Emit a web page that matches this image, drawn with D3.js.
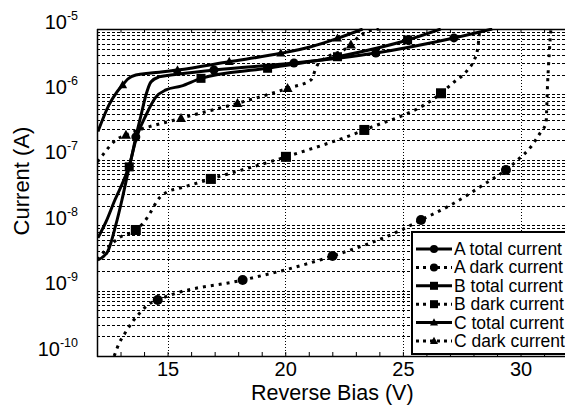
<!DOCTYPE html>
<html>
<head>
<meta charset="utf-8">
<script src="https://cdnjs.cloudflare.com/ajax/libs/d3/7.8.5/d3.min.js"></script>
<style>
  body { margin: 0; background: #fff; }
  svg { display: block; font-family: Arial, "Liberation Sans", sans-serif; }
</style>
</head>
<body>
<div id="chart"></div>
<script>
// reverse bias (V) / current (A) pairs
var aTotal = [[12.04,6.4e-9],[12.38,1.12e-8],[12.76,2.43e-8],[13.14,4.9e-8],[13.44,9.9e-8],[13.65,2.23e-7],[13.87,4.8e-7],[14.08,9.8e-7],[14.29,1.55e-6],[14.63,1.85e-6],[15.14,1.98e-6],[16.97,2.36e-6],[20.37,3.02e-6],[23.85,4.3e-6],[27.17,7.3e-6],[28.8,1e-5]];
var aTotalMarks = [[13.65,2.23e-7],[16.97,2.36e-6],[20.37,3.02e-6],[23.85,4.3e-6],[27.17,7.3e-6]];

var aDark = [[12.73,1.0e-10],[12.94,1.56e-10],[13.23,2.35e-10],[13.51,3.35e-10],[13.87,4.75e-10],[14.15,6.0e-10],[14.58,7.2e-10],[15.14,8.6e-10],[18.19,1.45e-9],[20.1,2.12e-9],[22.01,3.38e-9],[24.92,8.4e-9],[25.77,1.2e-8],[27.04,2.04e-8],[28.53,4.4e-8],[29.38,7.0e-8],[29.87,9.9e-8],[30.44,1.58e-7],[30.87,2.7e-7],[31.08,3.6e-7],[31.15,1.48e-6],[31.22,4.25e-6],[31.29,1e-5]];
var aDarkMarks = [[14.58,7.2e-10],[18.19,1.45e-9],[22.01,3.38e-9],[25.77,1.2e-8],[29.38,7.0e-8]];

var bTotal = [[12.04,2.94e-9],[12.45,3.94e-9],[12.8,1.01e-8],[13.06,2.43e-8],[13.37,7.8e-8],[13.65,2.0e-7],[14.08,4.8e-7],[14.5,9.1e-7],[14.93,1.17e-6],[15.57,1.34e-6],[16.42,1.76e-6],[19.25,2.51e-6],[22.22,3.77e-6],[25.2,6.8e-6],[26.61,1e-5]];
var bTotalMarks = [[13.37,7.8e-8],[16.42,1.76e-6],[19.25,2.51e-6],[22.22,3.77e-6],[25.2,6.8e-6]];

var bDark = [[12.02,2.94e-9],[12.29,3.9e-9],[12.59,5.0e-9],[12.93,6.4e-9],[13.65,8.45e-9],[14.01,1.13e-8],[14.29,1.61e-8],[14.58,2.43e-8],[15.0,3.25e-8],[15.49,3.66e-8],[16.84,5.1e-8],[20.03,1.11e-7],[23.36,2.86e-7],[26.62,1.04e-6],[27.11,1.48e-6],[27.75,2.36e-6],[28.03,3.36e-6],[28.17,4.8e-6],[28.27,1e-5]];
var bDarkMarks = [[13.65,8.45e-9],[16.84,5.1e-8],[20.03,1.11e-7],[23.36,2.86e-7],[26.62,1.04e-6]];

var cTotal = [[12.04,2.7e-7],[12.51,6.9e-7],[12.85,1.09e-6],[13.09,1.39e-6],[13.31,1.72e-6],[13.65,1.98e-6],[14.29,2.12e-6],[15.42,2.36e-6],[17.62,3.16e-6],[19.81,4.25e-6],[21.09,5.36e-6],[22.22,7.2e-6],[23.29,1e-5]];
var cTotalMarks = [[13.09,1.39e-6],[15.42,2.36e-6],[17.62,3.16e-6],[19.81,4.25e-6],[22.22,7.2e-6]];

var cDark = [[12.02,9.3e-8],[12.24,1.18e-7],[12.52,1.58e-7],[12.8,2.01e-7],[13.23,2.39e-7],[15.57,4.31e-7],[17.97,7.3e-7],[20.1,1.24e-6],[21.09,1.66e-6],[21.37,2.82e-6],[22.79,5.7e-6],[23.21,8.1e-6],[23.98,1e-5]];
var cDarkMarks = [[13.23,2.39e-7],[15.57,4.31e-7],[17.97,7.3e-7],[20.1,1.24e-6],[22.79,5.7e-6]];

var xTickValues = [15, 20, 25, 30];
var yTickExps = [-5, -6, -7, -8, -9, -10];
var legendLabels = ["A total current", "A dark current", "B total current", "B dark current", "C total current", "C dark current"];

var series = [
  {label: legendLabels[0], data: aTotal, marks: aTotalMarks, marker: "circle", dotted: false},
  {label: legendLabels[1], data: aDark, marks: aDarkMarks, marker: "circle", dotted: true},
  {label: legendLabels[2], data: bTotal, marks: bTotalMarks, marker: "square", dotted: false},
  {label: legendLabels[3], data: bDark, marks: bDarkMarks, marker: "square", dotted: true},
  {label: legendLabels[4], data: cTotal, marks: cTotalMarks, marker: "triangle", dotted: false},
  {label: legendLabels[5], data: cDark, marks: cDarkMarks, marker: "triangle", dotted: true}
];

var W = 565, H = 417;
var pLeft = 97, pTop = 29, pBottom = 356, pRight = 567.6;

var svg = d3.select("#chart")
            .append("svg")
            .attr("width", W)
            .attr("height", H);

var xScale = d3.scaleLinear().domain([12, 32]).range([pLeft, pRight]);
var yScale = d3.scaleLog().domain([1e-10, 1e-5]).range([pBottom, pTop]);

svg.append("clipPath")
   .attr("id", "plotclip")
   .append("rect")
   .attr("x", pLeft)
   .attr("y", pTop - 1)
   .attr("width", pRight - pLeft)
   .attr("height", pBottom - pTop + 2);

//horizontal log grid (2..9 in each decade plus the decades)
var gridY = [];
for (var e = -10; e < -5; e++) {
  for (var m = 1; m < 10; m++) {
    if (e === -10 && m === 1) continue;
    gridY.push(m * Math.pow(10, e));
  }
}

svg.append("g")
   .attr("class", "grid-y")
   .selectAll("line")
   .data(gridY)
   .enter()
   .append("line")
   .attr("x1", pLeft)
   .attr("x2", W)
   .attr("y1", function(d) { return Math.round(yScale(d)) + 0.5; })
   .attr("y2", function(d) { return Math.round(yScale(d)) + 0.5; })
   .attr("stroke", "#000")
   .attr("stroke-width", 1)
   .attr("stroke-dasharray", "3,2");

//vertical grid at the labelled ticks
svg.append("g")
   .attr("class", "grid-x")
   .selectAll("line")
   .data(xTickValues)
   .enter()
   .append("line")
   .attr("x1", function(d) { return Math.round(xScale(d)) + 0.5; })
   .attr("x2", function(d) { return Math.round(xScale(d)) + 0.5; })
   .attr("y1", pTop)
   .attr("y2", pBottom)
   .attr("stroke", "#000")
   .attr("stroke-width", 1)
   .attr("stroke-dasharray", "1,2");

//minor ticks, bottom and top, pointing in
var minorTicks = d3.range(13, 32);
svg.append("g")
   .attr("transform", "translate(0," + pBottom + ")")
   .call(d3.axisBottom(xScale).tickValues(minorTicks).tickSize(-4).tickFormat(""))
   .call(function(g) { g.select(".domain").remove(); });
svg.append("g")
   .attr("transform", "translate(0," + pTop + ")")
   .call(d3.axisTop(xScale).tickValues(minorTicks).tickSize(-4).tickFormat(""))
   .call(function(g) { g.select(".domain").remove(); });

//x labels
var xAxis = svg.append("g")
   .attr("class", "x-axis")
   .attr("transform", "translate(0," + pBottom + ")")
   .call(d3.axisBottom(xScale).tickValues(xTickValues).tickSize(0).tickPadding(6));
xAxis.select(".domain").remove();
xAxis.selectAll("text")
     .attr("font-size", 20)
     .attr("font-family", "Arial, 'Liberation Sans', sans-serif")
     .attr("fill", "#000");

//y labels as 10 with superscript exponent
var yAxis = svg.append("g")
   .attr("class", "y-axis")
   .attr("transform", "translate(" + pLeft + ",0)")
   .call(d3.axisLeft(yScale).tickValues(yTickExps.map(function(d) { return Math.pow(10, d); })).tickSize(0).tickFormat(""));
yAxis.select(".domain").remove();
yAxis.selectAll(".tick text").remove();
yAxis.selectAll(".tick")
     .append("text")
     .attr("x", -19)
     .attr("y", -1)
     .attr("text-anchor", "end")
     .attr("fill", "#000")
     .each(function(d) {
       var t = d3.select(this);
       var ex = Math.round(Math.log10(d));
       t.append("tspan").attr("font-size", 20).text("10");
       t.append("tspan").attr("font-size", 12.5).attr("dy", -9).text(ex);
     });

//frame
svg.append("line").attr("x1", pLeft).attr("x2", W).attr("y1", pTop + 0.5).attr("y2", pTop + 0.5).attr("stroke", "#000").attr("stroke-width", 1.5);
svg.append("line").attr("x1", pLeft).attr("x2", W).attr("y1", pBottom + 0.5).attr("y2", pBottom + 0.5).attr("stroke", "#000").attr("stroke-width", 1.5);
svg.append("line").attr("x1", pLeft + 0.5).attr("x2", pLeft + 0.5).attr("y1", pTop).attr("y2", pBottom + 1).attr("stroke", "#000").attr("stroke-width", 1.5);

var lineGen = d3.line()
  .x(function(d) { return xScale(d[0]); })
  .y(function(d) { return yScale(d[1]); })
  .curve(d3.curveMonotoneX);

function drawMarker(sel, type, size) {
  if (type === "circle") {
    sel.append("circle").attr("r", size / 2).attr("fill", "#000");
  } else if (type === "square") {
    sel.append("rect").attr("x", -size / 2).attr("y", -size / 2).attr("width", size).attr("height", size).attr("fill", "#000");
  } else {
    var h = size * 0.9;
    sel.append("path").attr("d", "M0," + (-h * 0.6) + "L" + (size / 2) + "," + (h * 0.4) + "L" + (-size / 2) + "," + (h * 0.4) + "Z").attr("fill", "#000");
  }
}

var plot = svg.append("g").attr("clip-path", "url(#plotclip)");

series.forEach(function(s) {
  plot.append("path")
      .datum(s.data)
      .attr("d", lineGen)
      .attr("fill", "none")
      .attr("stroke", "#000")
      .attr("stroke-width", 3)
      .attr("stroke-dasharray", s.dotted ? "3,5" : null)
      .attr("stroke-linejoin", "round");

  plot.selectAll(null)
      .data(s.marks)
      .enter()
      .append("g")
      .attr("transform", function(d) { return "translate(" + xScale(d[0]) + "," + yScale(d[1]) + ")"; })
      .each(function() { drawMarker(d3.select(this), s.marker, s.dotted ? 10 : 9); });
});

//axis titles
svg.append("text")
   .attr("x", (pLeft + pRight) / 2)
   .attr("y", 400)
   .attr("text-anchor", "middle")
   .attr("font-size", 21.5)
   .text("Reverse Bias (V)");

svg.append("text")
   .attr("transform", "translate(29,181) rotate(-90)")
   .attr("text-anchor", "middle")
   .attr("font-size", 22)
   .text("Current (A)");

//legend
var legend = svg.append("g").attr("class", "legend");
legend.append("rect")
      .attr("x", 412)
      .attr("y", 232)
      .attr("width", 160)
      .attr("height", 122)
      .attr("fill", "#fff")
      .attr("stroke", "#000")
      .attr("stroke-width", 2);

series.forEach(function(s, i) {
  var yy = 249 + i * 18.4;
  var row = legend.append("g").attr("transform", "translate(0," + yy + ")");
  row.append("line")
     .attr("x1", 416).attr("x2", 452)
     .attr("y1", 0).attr("y2", 0)
     .attr("stroke", "#000")
     .attr("stroke-width", 3)
     .attr("stroke-dasharray", s.dotted ? "3,4" : null);
  var mk = row.append("g").attr("transform", "translate(434,0)");
  drawMarker(mk, s.marker, 8);
  row.append("text")
     .attr("x", 454)
     .attr("y", 6)
     .attr("font-size", 17.5)
     .text(s.label);
});
</script>
</body>
</html>
